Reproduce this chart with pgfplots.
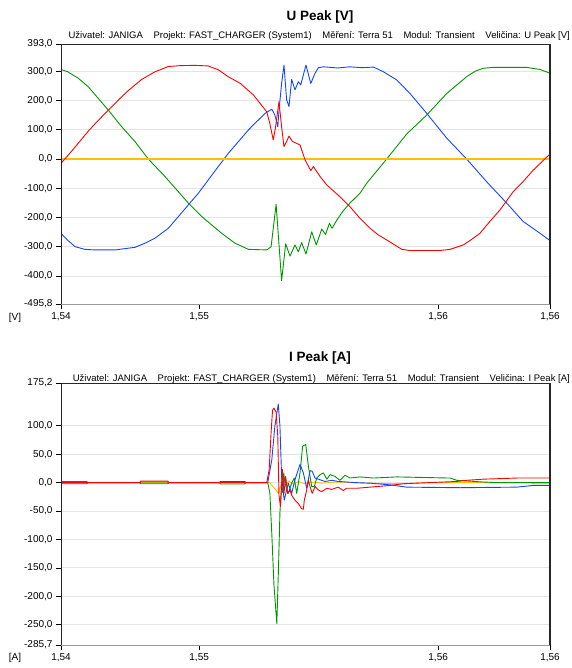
\documentclass[border=0pt]{standalone}
\usepackage{pgfplots}
\pgfplotsset{compat=1.18}
\usepackage{fontspec}
\setmainfont{Liberation Sans}
\definecolor{cred}{RGB}{255,0,0}
\definecolor{cgreen}{RGB}{0,150,0}
\definecolor{cblue}{RGB}{20,70,255}
\definecolor{cyellow}{RGB}{255,190,0}
\definecolor{cgrid}{RGB}{228,228,228}

\pgfplotsset{
  pq/.style={
    scale only axis, width=489pt,
    xmin=4.22, xmax=24.68,
    xtick={4.22,10,20,24.68}, xticklabels={{1,54},{1,55},{1,56},{1,56}},
    tick pos=left,
    tick align=outside, major tick length=5pt,
    tick style={black, line width=0.6pt},
    axis line style={draw=none},
    ymajorgrids, grid style={cgrid, line width=0.9pt},
    ticklabel style={font=\fontsize{10}{12}\selectfont},
    every axis plot/.append style={line width=0.9pt, line join=round},
  }
}

\begin{document}
\begin{tikzpicture}
\path[use as bounding box] (0,0) rectangle (571pt,668pt);

% ---------------- U Peak ----------------
\begin{axis}[pq, name=top, height=260pt, at={(61pt,364pt)}, anchor=south west,
  ymin=-495.8, ymax=393,
  ytick={-495.8,-400,-300,-200,-100,0,100,200,300,393},
  yticklabels={{-495,8},{-400,0},{-300,0},{-200,0},{-100,0},{0,0},{100,0},{200,0},{300,0},{393,0}}]
\addplot[cgreen] coordinates {
(4.22,306) (4.50,298) (4.94,276) (5.36,247) (5.78,207) (6.20,167) (6.76,110) (7.32,59)
(7.87,0) (8.57,-60) (9.55,-151) (10.11,-197) (10.94,-254) (11.50,-288) (12.06,-309)
(12.83,-311) (13.01,-300) (13.22,-155)
(13.45,-416) (13.62,-290) (13.80,-332) (14.01,-294) (14.15,-317) (14.29,-286)
(14.47,-325) (14.71,-249) (14.90,-294) (15.13,-240) (15.29,-258) (15.45,-220)
(15.56,-237) (15.76,-209) (16.03,-177) (16.31,-151) (16.73,-117) (17.01,-83)
(17.85,0) (18.68,85) (19.52,150) (20.36,224) (21.19,281) (21.55,300) (21.89,310)
(22.30,313) (23.70,313) (24.26,306) (24.68,293)};
\addplot[cblue] coordinates {
(4.22,-254) (4.45,-274) (4.81,-300) (5.22,-309) (5.64,-311) (6.48,-311) (7.32,-302)
(7.73,-288) (8.15,-271) (8.43,-254) (8.71,-237) (9.13,-197) (9.55,-157) (9.97,-117)
(10.38,-72) (10.80,-26) (11.22,19) (11.64,59) (12.06,99) (12.34,122) (12.76,156)
(13.04,170) (13.17,150)
(13.29,110) (13.35,173) (13.45,258) (13.55,321) (13.66,202) (13.76,179) (13.87,272)
(14.01,236) (14.15,264) (14.25,253) (14.47,321) (14.67,258) (14.85,293) (14.99,312)
(15.20,315) (15.80,311) (16.30,315) (16.80,312) (17.30,314) (17.71,298) (18.27,270)
(18.82,224) (19.52,156) (20.36,71) (21.19,0) (22.03,-78) (22.87,-151) (23.56,-214)
(24.26,-254) (24.68,-279)};
\addplot[cyellow, line width=1.1pt] coordinates {(4.22,0) (24.68,0)};
\addplot[cred] coordinates {
(4.22,-15) (4.70,30) (5.36,95) (5.70,125) (6.20,167) (6.70,208) (7.04,234) (7.60,272)
(8.15,298) (8.71,316) (9.20,319) (9.80,320) (10.38,318) (10.80,305) (11.22,281)
(11.71,259) (12.27,219) (12.83,161) (12.96,120) (13.10,65) (13.20,110) (13.34,196)
(13.45,110) (13.55,42) (13.66,60) (13.76,78) (13.90,60) (14.22,48) (14.43,-3)
(14.67,-40) (14.78,-26) (15.06,-60) (15.34,-89) (15.89,-129) (16.31,-163)
(16.73,-203) (17.15,-237) (17.50,-260) (17.85,-277) (18.48,-309) (18.82,-313)
(20.08,-313) (20.50,-309) (21.05,-294) (21.40,-275) (21.75,-254) (22.15,-215)
(22.59,-174) (23.14,-112) (23.56,-77) (23.98,-38) (24.68,17)};
\end{axis}
\draw[black!85, line width=0.8pt] (top.south west) -- (top.north west) -- (top.north east);
\draw[black!85, line width=1.6pt] (top.north east) -- (top.south east);
\draw[black!40, line width=0.8pt] (top.south west) -- (top.south east);

% ---------------- I Peak ----------------
\begin{axis}[pq, name=bot, height=262pt, at={(61pt,23pt)}, anchor=south west,
  ymin=-285.7, ymax=175.2,
  ytick={-285.7,-250,-200,-150,-100,-50,0,50,100,175.2},
  yticklabels={{-285,7},{-250,0},{-200,0},{-150,0},{-100,0},{-50,0},{0,0},{50,0},{100,0},{175,2}}]
\addplot[cyellow] coordinates {
(4.22,0) (12.96,0) (13.10,-8) (13.22,-13) (13.31,-19) (13.42,-5) (13.48,2)
(13.62,-5) (13.76,3) (13.95,-3) (14.15,2) (14.40,-2) (14.70,1) (15.10,-1)
(15.80,1) (17.15,-1) (18.54,-2) (19.66,0) (23.84,0) (24.00,-2) (24.68,-2)};
\addplot[cgreen] coordinates {
(4.22,2) (5.31,2) (5.32,0) (7.53,0) (7.54,1) (8.70,1) (8.71,0) (10.87,0) (10.88,-2.5) (11.92,-2.5) (11.93,0)
(12.87,0) (12.96,-19) (13.04,-90) (13.13,-180) (13.25,-248) (13.32,-150) (13.38,-53)
(13.45,-7) (13.50,-18) (13.54,17) (13.59,-1) (13.73,-19) (13.87,-1) (13.98,8)
(14.08,-19) (14.22,17) (14.33,64) (14.46,67) (14.57,29) (14.71,-7) (14.82,-7)
(14.92,8) (15.06,14) (15.20,17) (15.34,6) (15.48,14) (15.68,11) (15.89,4) (16.10,13)
(16.31,8) (16.73,10) (17.29,8) (18.27,10) (20.50,8) (20.78,4) (21.89,1) (22.45,0)
(24.68,0)};
\addplot[cblue] coordinates {
(4.22,-2) (5.31,-2) (5.32,0) (7.53,0) (7.54,-2) (8.70,-2) (8.71,0) (10.87,0)
(10.88,2) (11.92,2) (11.93,0)
(12.87,0) (13.04,40) (13.17,100) (13.31,138) (13.38,100) (13.45,11) (13.56,-31)
(13.66,-13) (13.73,-1) (13.87,-19) (14.01,5) (14.22,32) (14.36,17) (14.50,-10)
(14.64,21) (14.73,20) (14.85,8) (15.06,5) (15.27,2) (15.55,4) (15.82,2) (16.52,0)
(17.15,-1) (17.99,-4) (18.68,-8) (20.92,-9) (23.29,-8) (23.97,-5) (24.68,-5)};
\addplot[cred] coordinates {
(4.22,0) (7.53,0) (7.54,2.5) (8.70,2.5) (8.71,0)
(12.83,0) (12.93,23) (13.01,88) (13.07,127) (13.13,131) (13.22,124) (13.29,82)
(13.34,-22) (13.40,-42) (13.48,23) (13.55,-19) (13.62,11) (13.70,-19) (13.80,-13)
(13.87,-22) (14.01,-31) (14.15,-37) (14.29,-46) (14.36,-47) (14.40,-31) (14.50,-13)
(14.57,4) (14.64,-7) (14.73,-19) (14.85,-7) (14.99,-13) (15.13,-16) (15.34,-10)
(15.55,-12) (15.82,-8) (15.89,-10) (16.03,-14) (16.17,-10) (16.59,-10) (17.99,-5)
(18.54,-2) (19.66,0) (20.78,2) (21.19,4) (21.88,6) (23.29,8) (24.68,8)};
\end{axis}
\draw[black!85, line width=0.8pt] (bot.south west) -- (bot.north west) -- (bot.north east);
\draw[black!85, line width=1.6pt] (bot.north east) -- (bot.south east);
\draw[black!40, line width=0.8pt] (bot.south west) -- (bot.south east);

% ---------------- texts ----------------
\node[font=\fontsize{13.5}{15}\selectfont\bfseries] at (320pt,651pt) {U Peak [V]};
\node[font=\fontsize{9.5}{11}\selectfont, anchor=east, inner sep=0pt] at (570pt,632pt)
  {Uživatel: JANIGA\hspace{8pt} Projekt: FAST\_CHARGER (System1)\hspace{8pt} Měření: Terra 51\hspace{8pt} Modul: Transient\hspace{8pt} Veličina: U Peak [V]};
\node[font=\fontsize{10}{12}\selectfont] at (15pt,350pt) {[V]};

\node[font=\fontsize{13.5}{15}\selectfont\bfseries] at (320pt,310pt) {I Peak [A]};
\node[font=\fontsize{9.5}{11}\selectfont, anchor=east, inner sep=0pt] at (570pt,289pt)
  {Uživatel: JANIGA\hspace{8pt} Projekt: FAST\_CHARGER (System1)\hspace{8pt} Měření: Terra 51\hspace{8pt} Modul: Transient\hspace{8pt} Veličina: I Peak [A]};
\node[font=\fontsize{10}{12}\selectfont] at (15pt,10pt) {[A]};
\end{tikzpicture}
\end{document}
